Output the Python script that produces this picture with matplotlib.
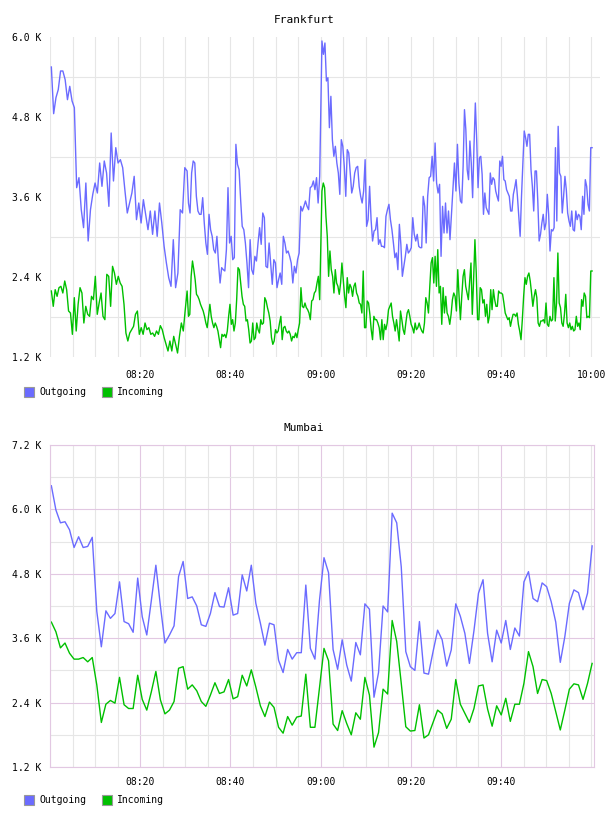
import numpy as np
import matplotlib
matplotlib.use("Agg")
import matplotlib.pyplot as plt
from matplotlib.patches import Rectangle
from matplotlib.ticker import FixedLocator, MultipleLocator, FuncFormatter

plt.rcParams["font.family"] = ["DejaVu Sans Mono"]

BLUE = "#6b6bff"
GREEN = "#00c000"

# Frankfurt: traffic in K, read in four stretches (minutes after 08:00)
fra_spans = [(0.3, 30.4), (30.7, 59.8), (60.3, 91.0), (91.3, 120.2)]

fra_out_a = [5.55, 4.85, 5.09, 5.21, 5.49, 5.49, 5.36, 5.06, 5.26, 5.04, 4.94, 3.74, 3.89, 3.41,
             3.14, 3.81, 2.94, 3.41, 3.64, 3.81, 3.66, 4.11, 3.76, 4.14, 3.96, 3.46, 4.56, 3.84,
             4.34, 4.11, 4.16, 4.04, 3.69, 3.36, 3.51, 3.66, 3.91, 3.26, 3.51, 3.21, 3.56, 3.34,
             3.11, 3.39, 3.04, 3.39, 3.01, 3.51, 3.21, 2.86, 2.61, 2.39, 2.26, 2.96, 2.24, 2.46,
             3.41, 3.36, 4.04, 3.99]
fra_out_b = [3.51, 3.36, 3.96, 4.14, 4.11, 3.61, 3.39, 3.34, 3.34, 3.59, 3.21, 2.91, 2.74, 3.34,
             3.11, 3.01, 2.81, 2.76, 3.01, 2.61, 2.31, 2.54, 2.51, 2.49, 2.81, 3.74, 2.91, 3.01,
             2.66, 2.69, 4.39, 4.09, 4.01, 3.56, 3.16, 3.11, 2.91, 2.61, 2.24, 2.96, 2.51, 2.44,
             2.71, 2.64, 2.91, 3.14, 2.89, 3.36, 3.29, 2.56, 2.54, 2.91, 2.61, 2.29, 2.66, 2.61,
             2.24, 2.36, 2.46, 2.29, 3.01, 2.91, 2.76, 2.79, 2.71, 2.61, 2.31, 2.56, 2.46, 2.66,
             2.76, 3.46, 3.39, 3.46, 3.54, 3.46, 3.41, 3.74, 3.76, 3.84, 3.71, 3.89, 3.51, 3.91]
fra_out_c = [5.94, 5.74, 5.91, 5.34, 5.39, 4.64, 5.11, 4.46, 4.21, 4.36, 4.11, 3.96, 3.64, 4.46,
             4.36, 4.06, 3.61, 4.31, 4.26, 3.96, 3.66, 3.76, 3.96, 4.04, 4.06, 3.76, 3.61, 3.51,
             3.69, 4.16, 3.16, 3.26, 3.76, 3.26, 2.94, 3.09, 3.11, 3.29, 2.89, 2.96, 2.86, 2.86,
             2.84, 3.31, 3.41, 3.49, 3.26, 3.11, 2.91, 2.69, 2.76, 2.51, 3.19, 2.89, 2.41, 2.56,
             2.71, 2.89, 2.76, 2.79, 2.84, 3.29, 3.04, 2.94, 3.04, 2.86, 2.84, 2.84, 3.61, 3.46,
             2.91, 3.61, 3.89, 3.91, 4.21, 3.84, 4.41, 3.81, 3.66, 3.79, 2.71, 3.46, 3.06, 3.51,
             3.06, 3.39, 2.96, 3.34, 3.72, 4.11, 3.69, 4.39, 3.81, 3.54]
fra_out_d = [3.51, 4.06, 4.91, 4.61, 4.01, 3.86, 4.44, 4.11, 3.59, 4.36, 5.01, 4.46, 3.74, 4.19,
             4.21, 3.94, 3.34, 3.66, 3.44, 3.39, 3.34, 3.96, 3.79, 3.89, 3.86, 3.69, 3.61, 3.54,
             4.14, 4.06, 4.21, 3.86, 3.84, 3.71, 3.66, 3.61, 3.39, 3.39, 3.64, 3.74, 3.86, 3.61,
             3.31, 3.01, 3.61, 4.11, 4.59, 4.49, 4.36, 4.54, 4.54, 4.01, 3.76, 3.39, 3.99, 3.99,
             3.54, 2.94, 3.04, 3.21, 3.34, 3.11, 3.21, 3.64, 3.34, 2.79, 3.11, 3.09, 3.14, 4.34,
             3.24, 4.66, 3.96, 3.91, 3.36, 3.61, 3.91, 3.71, 3.36, 3.24, 3.16, 3.39, 3.11, 3.09,
             3.39, 3.26, 3.34, 3.31, 3.11, 3.61, 3.34, 3.86, 3.76, 3.49, 3.39, 4.34, 4.34]

fra_in_a = [2.19, 1.96, 2.21, 2.11, 2.24, 2.26, 2.16, 2.34, 2.21, 1.89, 1.86, 1.54, 2.09, 1.59,
            1.99, 2.24, 2.16, 1.71, 1.96, 1.84, 1.81, 2.11, 2.06, 2.41, 1.84, 2.01, 2.16, 1.81,
            1.76, 2.44, 2.41, 1.96, 2.56, 2.46, 2.29, 2.41, 2.31, 2.26, 1.99, 1.56, 1.44, 1.56,
            1.61, 1.66, 1.84, 1.89, 1.54, 1.64, 1.54, 1.71, 1.61, 1.64, 1.54, 1.56, 1.51, 1.59,
            1.54, 1.67, 1.61, 1.49, 1.39, 1.29, 1.44, 1.29, 1.51, 1.39, 1.26, 1.51, 1.71, 1.59,
            1.90, 2.19]
fra_in_b = [1.81, 1.84, 2.41, 2.64, 2.51, 2.36, 2.14, 2.11, 2.06, 1.99, 1.94, 1.89, 1.81, 1.71,
            1.64, 1.81, 1.99, 1.81, 1.71, 1.64, 1.71, 1.66, 1.59, 1.46, 1.34, 1.54, 1.51, 1.54,
            1.49, 1.59, 1.81, 1.99, 1.69, 1.76, 1.59, 1.71, 2.06, 2.54, 2.51, 2.31, 2.11, 1.99,
            1.96, 1.74, 1.76, 1.61, 1.41, 1.44, 1.71, 1.46, 1.49, 1.71, 1.61, 1.56, 1.76, 1.69,
            1.71, 2.09, 2.04, 1.94, 1.86, 1.74, 1.49, 1.39, 1.44, 1.61, 1.56, 1.59, 1.71, 1.81,
            1.46, 1.64, 1.66, 1.59, 1.56, 1.59, 1.54, 1.44, 1.51, 1.49, 1.56, 1.49, 1.61, 1.71,
            2.24, 1.96, 1.94, 2.01, 1.94, 1.91, 1.86, 1.76, 2.04, 2.06, 2.16, 2.19, 2.31, 2.41,
            2.06]
fra_in_c = [3.69, 3.81, 3.74, 3.31, 3.01, 2.41, 2.79, 2.51, 2.41, 2.16, 2.51, 2.31, 2.26, 2.14,
            2.31, 2.61, 2.36, 2.11, 1.94, 2.39, 2.16, 2.29, 2.24, 2.11, 2.26, 2.31, 2.16, 2.11,
            2.01, 1.99, 1.86, 2.49, 1.64, 1.64, 2.04, 2.01, 1.84, 1.61, 1.46, 1.81, 1.76, 1.76,
            1.71, 1.64, 1.46, 1.76, 1.46, 1.69, 1.61, 1.71, 1.91, 1.96, 2.01, 1.81, 1.71, 1.59,
            1.76, 1.61, 1.44, 1.89, 1.76, 1.61, 1.54, 1.71, 1.86, 1.91, 1.81, 1.69, 1.64, 1.56,
            1.71, 1.61, 1.64, 1.71, 1.64, 1.59, 1.56, 1.71, 2.09, 2.01, 1.86, 2.26, 2.61, 2.69,
            2.31, 2.71, 2.26, 2.81, 2.16, 2.26, 1.69, 2.24, 1.86, 2.11, 1.86, 1.81, 1.69, 1.84,
            2.06, 2.16, 2.11, 1.89, 2.51, 2.11, 1.76]
fra_in_d = [2.11, 2.41, 2.51, 2.26, 2.16, 2.06, 2.34, 2.61, 1.84, 2.36, 2.96, 2.46, 1.76, 1.76,
            2.24, 2.21, 2.01, 2.06, 1.81, 1.99, 1.71, 1.81, 2.21, 1.91, 2.21, 2.06, 1.96, 1.96,
            2.19, 2.16, 2.16, 2.14, 2.01, 1.86, 1.81, 1.76, 1.79, 1.66, 1.76, 1.84, 1.84, 1.81,
            1.86, 1.69, 1.59, 1.46, 1.76, 2.11, 2.39, 2.29, 2.41, 2.46, 2.34, 2.16, 1.96, 2.11,
            2.21, 2.09, 1.71, 1.66, 1.74, 1.74, 1.76, 1.71, 2.01, 1.69, 1.66, 1.81, 1.74, 1.76,
            2.39, 1.74, 2.01, 2.76, 2.01, 1.94, 1.71, 1.66, 1.84, 2.14, 1.71, 1.64, 1.71, 1.61,
            1.66, 1.59, 1.61, 1.81, 1.66, 1.71, 1.61, 2.06, 1.96, 2.16, 2.11, 1.79, 1.81, 1.79,
            2.49, 2.49]

# Mumbai: one sample a minute from 08:00
mum_span = (0.3, 120.2)
mum_out = [6.44, 5.99, 5.75, 5.77, 5.62, 5.29, 5.49, 5.29, 5.31, 5.48, 4.10, 3.44, 4.11, 3.97,
           4.06, 4.65, 3.91, 3.87, 3.71, 4.72, 4.00, 3.66, 4.30, 4.96, 4.20, 3.51, 3.66, 3.83,
           4.75, 5.03, 4.34, 4.37, 4.20, 3.85, 3.82, 4.06, 4.45, 4.19, 4.18, 4.54, 4.03, 4.06,
           4.78, 4.48, 4.96, 4.25, 3.88, 3.47, 3.88, 3.85, 3.19, 2.96, 3.39, 3.21, 3.33, 3.33,
           4.59, 3.41, 3.21, 4.30, 5.10, 4.82, 3.39, 3.02, 3.57, 3.10, 2.80, 3.52, 3.29, 4.24,
           4.14, 2.50, 2.96, 4.20, 4.09, 5.93, 5.75, 4.93, 3.35, 3.07, 3.00, 3.91, 2.95, 2.93,
           3.35, 3.75, 3.57, 3.08, 3.38, 4.24, 4.01, 3.69, 3.13, 3.74, 4.44, 4.69, 3.69, 3.16,
           3.75, 3.51, 3.93, 3.39, 3.79, 3.64, 4.65, 4.84, 4.34, 4.28, 4.63, 4.56, 4.28, 3.90,
           3.15, 3.63, 4.25, 4.50, 4.45, 4.13, 4.44, 5.32]
mum_in = [3.90, 3.72, 3.42, 3.51, 3.32, 3.21, 3.21, 3.24, 3.16, 3.24, 2.73, 2.03, 2.37, 2.44,
          2.39, 2.87, 2.36, 2.29, 2.29, 2.91, 2.46, 2.26, 2.60, 2.98, 2.45, 2.19, 2.26, 2.42,
          3.04, 3.07, 2.65, 2.73, 2.62, 2.42, 2.33, 2.54, 2.77, 2.57, 2.60, 2.83, 2.47, 2.51,
          2.91, 2.71, 3.01, 2.69, 2.34, 2.14, 2.41, 2.31, 1.94, 1.83, 2.14, 1.98, 2.13, 2.15,
          2.93, 1.94, 1.94, 2.67, 3.41, 3.18, 2.00, 1.88, 2.25, 2.01, 1.80, 2.21, 2.09, 2.87,
          2.54, 1.57, 1.84, 2.65, 2.56, 3.93, 3.54, 2.76, 1.95, 1.87, 1.88, 2.36, 1.74, 1.80,
          2.03, 2.26, 2.19, 1.92, 2.09, 2.83, 2.37, 2.20, 2.03, 2.29, 2.71, 2.73, 2.28, 1.96,
          2.34, 2.17, 2.48, 2.05, 2.37, 2.37, 2.76, 3.35, 3.07, 2.57, 2.83, 2.81, 2.57, 2.23,
          1.89, 2.26, 2.65, 2.75, 2.73, 2.46, 2.76, 3.13]

W, H = 608, 816
fig = plt.figure(figsize=(W / 100, H / 100), dpi=100)


def box(left, top, right, bottom):
    return [left / W, 1 - bottom / H, (right - left) / W, (bottom - top) / H]


def stretch(parts):
    t = np.concatenate([np.linspace(a, b, len(p)) for (a, b), p in zip(fra_spans, parts)])
    return t, np.concatenate(parts)


def hhmm(m, pos=None):
    m = int(round(m))
    return f"{8 + m // 60:02d}:{m % 60:02d}"


def legend(y):
    for x, c, name in [(24, BLUE, "Outgoing"), (102, GREEN, "Incoming")]:
        fig.add_artist(Rectangle((x / W, 1 - (y + 5) / H), 10 / W, 10 / H,
                                 transform=fig.transFigure, fc=c, ec="#999999", lw=0.8))
        fig.text((x + 15) / W, 1 - y / H, name, fontsize=7, va="center", ha="left")


grey = "#e6e6e6"
pink = "#e2c8e2"

# ---- Frankfurt
ax1 = fig.add_axes(box(50, 37, 600, 357))
t, v = stretch([fra_out_a, fra_out_b, fra_out_c, fra_out_d])
ax1.plot(t, v, color=BLUE, lw=1.0)
t, v = stretch([fra_in_a, fra_in_b, fra_in_c, fra_in_d])
ax1.plot(t, v, color=GREEN, lw=1.0)
ax1.set_xlim(0, 550 / 4.51)
ax1.set_ylim(1.2, 6.0)
ax1.xaxis.set_major_locator(FixedLocator([20, 40, 60, 80, 100, 120]))
ax1.xaxis.set_minor_locator(MultipleLocator(5))
ax1.xaxis.set_major_formatter(FuncFormatter(hhmm))
ax1.yaxis.set_major_locator(FixedLocator([1.2, 2.4, 3.6, 4.8, 6.0]))
ax1.yaxis.set_minor_locator(FixedLocator([1.8, 3.0, 4.2, 5.4]))
ax1.yaxis.set_major_formatter(FuncFormatter(lambda y, p: f"{y:.1f} K"))
ax1.grid(True, which="minor", color=grey, lw=0.8)
ax1.grid(True, which="major", axis="x", color=grey, lw=0.8)
ax1.set_axisbelow(True)
for s in ax1.spines.values():
    s.set_visible(False)
ax1.tick_params(which="both", length=0, labelsize=7)
ax1.tick_params(axis="x", pad=9)
ax1.tick_params(axis="y", pad=6)
fig.text(304 / W, 1 - 20 / H, "Frankfurt", fontsize=8, ha="center", va="center")
legend(392)

# ---- Mumbai
ax2 = fig.add_axes(box(50, 445, 594, 767))
t = np.linspace(mum_span[0], mum_span[1], len(mum_out))
ax2.plot(t, mum_out, color=BLUE, lw=1.0)
t = np.linspace(mum_span[0], mum_span[1], len(mum_in))
ax2.plot(t, mum_in, color=GREEN, lw=1.0)
ax2.set_xlim(0, 544 / 4.51)
ax2.set_ylim(1.2, 7.2)
ax2.xaxis.set_major_locator(FixedLocator([20, 40, 60, 80, 100]))
ax2.xaxis.set_minor_locator(MultipleLocator(5))
ax2.xaxis.set_major_formatter(FuncFormatter(hhmm))
ax2.yaxis.set_major_locator(FixedLocator([1.2, 2.4, 3.6, 4.8, 6.0, 7.2]))
ax2.yaxis.set_minor_locator(FixedLocator([1.8, 3.0, 4.2, 5.4, 6.6]))
ax2.yaxis.set_major_formatter(FuncFormatter(lambda y, p: f"{y:.1f} K"))
ax2.grid(True, which="minor", color=grey, lw=0.8)
ax2.grid(True, which="major", color=pink, lw=0.8)
ax2.set_axisbelow(True)
for s in ax2.spines.values():
    s.set_color(pink)
    s.set_linewidth(0.8)
ax2.tick_params(which="both", length=0, labelsize=7)
ax2.tick_params(axis="x", pad=7)
ax2.tick_params(axis="y", pad=6)
fig.text(304 / W, 1 - 428 / H, "Mumbai", fontsize=8, ha="center", va="center")
legend(800)

fig.savefig("out.png", dpi=100)
